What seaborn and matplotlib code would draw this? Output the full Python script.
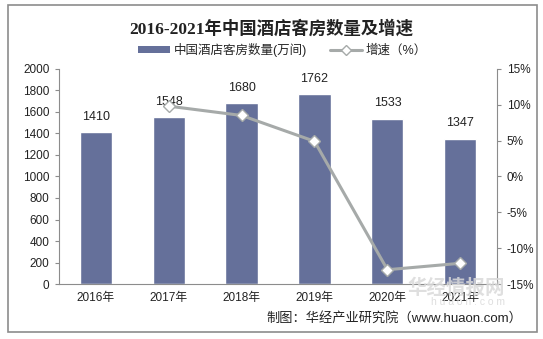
import matplotlib
matplotlib.use("Agg")
import matplotlib.pyplot as plt
import seaborn as sns
import pandas as pd
from matplotlib.patches import Rectangle, Patch
from matplotlib.lines import Line2D
from matplotlib.ticker import FuncFormatter, FixedLocator

# Data
years = ["2016年", "2017年", "2018年", "2019年", "2020年", "2021年"]
rooms = [1410, 1548, 1680, 1762, 1533, 1347]
growth_years = ["2017年", "2018年", "2019年", "2020年", "2021年"]
growth = [9.8, 8.5, 4.9, -13.0, -12.1]

bar_color = "#65709a"
line_color = "#a6aaa9"

sns.set_style("white")
plt.rcParams["font.family"] = ["Liberation Sans", "Noto Sans CJK SC", "DejaVu Sans"]

df = pd.DataFrame({"year": years, "rooms": rooms})
gdf = pd.DataFrame({"year": growth_years, "growth": growth})

fig = plt.figure(figsize=(5.43, 3.39), dpi=100)
ax = fig.add_axes([0.109, 0.162, 0.806, 0.635])

sns.barplot(data=df, x="year", y="rooms", color=bar_color, width=0.44,
            saturation=1, ax=ax)
ax.set_ylim(0, 2000)
ax.set_xlim(-0.5, 5.5)
ax.set_yticks(range(0, 2001, 200))
ax.set_xlabel("")
ax.set_ylabel("")
for c in ax.containers:
    ax.bar_label(c, padding=7, fontsize=9, color="#222222")

ax2 = ax.twinx()
sns.lineplot(data=gdf, x="year", y="growth", color=line_color, lw=2.2,
             marker="D", markersize=6, markerfacecolor="white",
             markeredgecolor=line_color, markeredgewidth=1, ax=ax2)
ax2.set_ylim(-15, 15)
ax2.set_yticks(range(-15, 16, 5))
ax2.yaxis.set_major_formatter(FuncFormatter(lambda v, p: f"{int(v)}%"))
ax2.set_ylabel("")

for a in (ax, ax2):
    for s in a.spines.values():
        s.set_visible(False)
    a.tick_params(labelsize=8.5, colors="#222222", length=0)

ax.spines["left"].set_visible(True)
ax.spines["left"].set_color("#8c8c8c")
ax.spines["bottom"].set_visible(True)
ax.spines["bottom"].set_color("#8c8c8c")
ax2.spines["right"].set_visible(True)
ax2.spines["right"].set_color("#8c8c8c")
ax.tick_params(axis="y", length=3, color="#8c8c8c", pad=4)
ax2.tick_params(axis="y", length=3, color="#8c8c8c", pad=4)
ax.xaxis.set_minor_locator(FixedLocator([i + 0.5 for i in range(-1, 6)]))
ax.tick_params(axis="x", which="minor", length=4, color="#8c8c8c")
ax.tick_params(axis="x", which="major", length=0, pad=6)

fig.text(0.5, 0.915, "2016-2021年中国酒店客房数量及增速", ha="center", va="center",
         fontsize=12.5, fontweight="bold", color="#222222",
         family=["Liberation Serif", "Noto Sans CJK SC"])

handles = [Patch(facecolor=bar_color, edgecolor="none"),
           Line2D([], [], color=line_color, lw=2.2, marker="D", markersize=5,
                  markerfacecolor="white", markeredgecolor=line_color)]
fig.legend(handles, ["中国酒店客房数量(万间)", "增速（%）"], loc="center",
           bbox_to_anchor=(0.52, 0.852), ncol=2, frameon=False, fontsize=9,
           handlelength=2.6, handleheight=0.45, columnspacing=1.8, handletextpad=0.3)

# watermark
fig.text(0.93, 0.15, "华经情报网", ha="right", va="center", fontsize=14,
         fontweight="bold", color="#dadada", alpha=0.85, zorder=0)
fig.text(0.93, 0.108, "h u a o n . c o m", ha="right", va="center", fontsize=7.5,
         color="#dedede", zorder=0)

fig.text(0.962, 0.062, "制图：华经产业研究院（www.huaon.com）", ha="right",
         va="center", fontsize=9.5, color="#222222")

fig.patches.append(Rectangle((0.015, 0.02), 0.974, 0.965, transform=fig.transFigure,
                             fill=False, edgecolor="#8c8c8c", lw=1.2))

fig.savefig("out.png", dpi=100)
